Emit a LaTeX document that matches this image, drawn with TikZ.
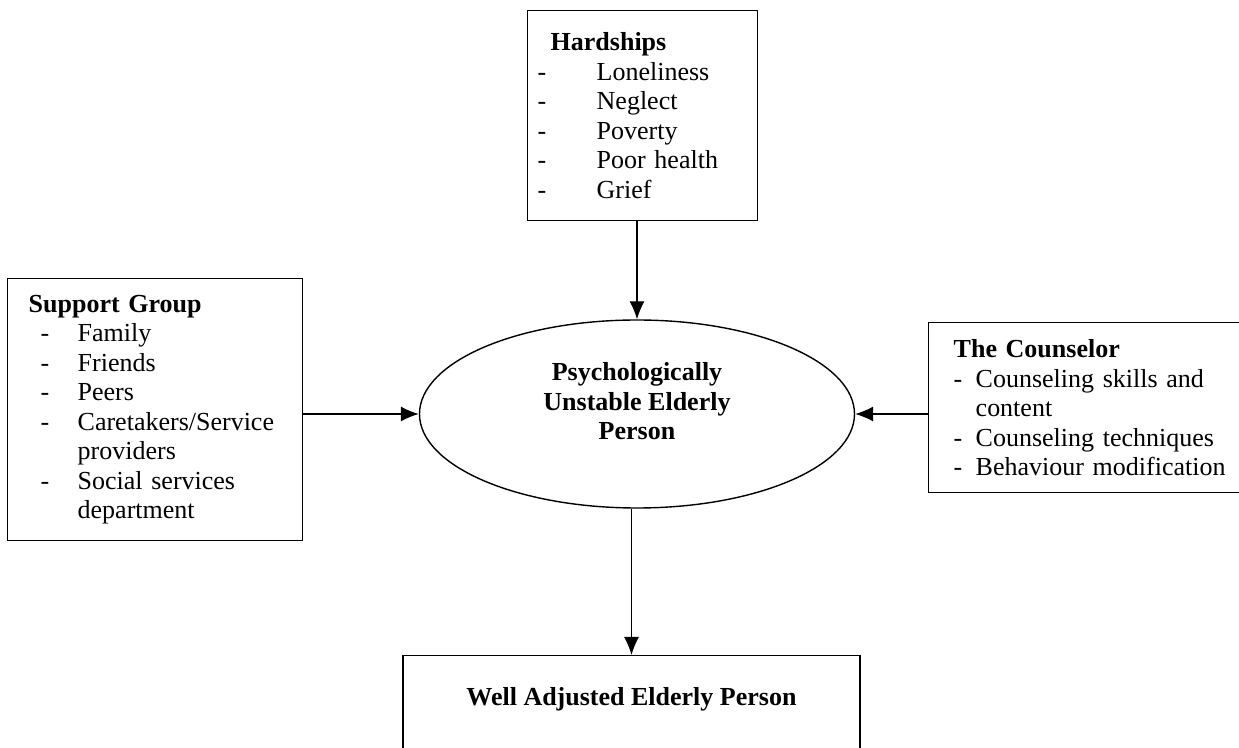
\documentclass[tikz,border=0pt]{standalone}
\usepackage{fontspec}
\setmainfont{Liberation Serif}
\usepackage{tikz}
\usetikzlibrary{arrows.meta, shapes.geometric, positioning, calc}

\newcommand{\dashline}[3][0pt]{\hspace*{#1}\makebox[#2][l]{-}#3}
\newcommand{\contline}[3][0pt]{\hspace*{#1}\hspace*{#2}#3}

\tikzset{
  every node/.style={font=\fontsize{13pt}{14.75pt}\selectfont},
  listbox/.style={draw, line width=0.7pt, anchor=north west, align=left, inner ysep=0pt},
  arr/.style={line width=0.6pt, -{Latex[length=9pt,width=7.5pt]}},
}

\begin{document}
\begin{tikzpicture}[x=0.5pt, y=-0.5pt]
\useasboundingbox (0,0) rectangle (1239,748);
%hardships
\node[listbox, inner xsep=5pt, text width=105pt, minimum height=105pt] (hard) at (527,10)
  {\hspace*{6.5pt}\textbf{Hardships}\\
   \dashline{29.5pt}{Loneliness}\\
   \dashline{29.5pt}{Neglect}\\
   \dashline{29.5pt}{Poverty}\\
   \dashline{29.5pt}{Poor health}\\
   \dashline{29.5pt}{Grief}};
%support group
\node[listbox, inner xsep=10.5pt, text width=126.5pt, minimum height=131pt] (supp) at (7,278)
  {\textbf{Support Group}\\
   \dashline[6pt]{18.5pt}{Family}\\
   \dashline[6pt]{18.5pt}{Friends}\\
   \dashline[6pt]{18.5pt}{Peers}\\
   \dashline[6pt]{18.5pt}{Caretakers/Service}\\
   \contline[6pt]{18.5pt}{providers}\\
   \dashline[6pt]{18.5pt}{Social services}\\
   \contline[6pt]{18.5pt}{department}};
%counselor
\node[listbox, inner xsep=12.5pt, text width=150pt, minimum height=85pt] (couns) at (928,322)
  {\textbf{The Counselor}\\
   \dashline{11pt}{Counseling skills and}\\
   \contline{11pt}{content}\\
   \dashline{11pt}{Counseling techniques}\\
   \dashline{11pt}{Behaviour modification}};
%elderly person
\node[draw, ellipse, line width=0.7pt, minimum width=217.5pt, minimum height=94pt,
      inner sep=0pt, align=center, text depth=13pt,
      font=\fontsize{13pt}{14.75pt}\selectfont\bfseries] (psy) at (637,414)
  {Psychologically\\Unstable Elderly\\Person};
%outcome
\node[draw, line width=0.7pt, anchor=north, minimum width=228.5pt, inner ysep=0pt,
      text height=25pt, text depth=45pt, font=\fontsize{13pt}{14.75pt}\selectfont\bfseries] (well) at (631.5,655)
  {Well Adjusted Elderly Person};
%arrows
\draw[arr] (psy.north |- hard.south) -- (psy.north);
\draw[arr] (supp.east |- psy.west) -- (psy.west);
\draw[arr] (couns.west |- psy.east) -- (psy.east);
\draw[arr] (well.north |- psy.south) -- (well.north);
\end{tikzpicture}
\end{document}
